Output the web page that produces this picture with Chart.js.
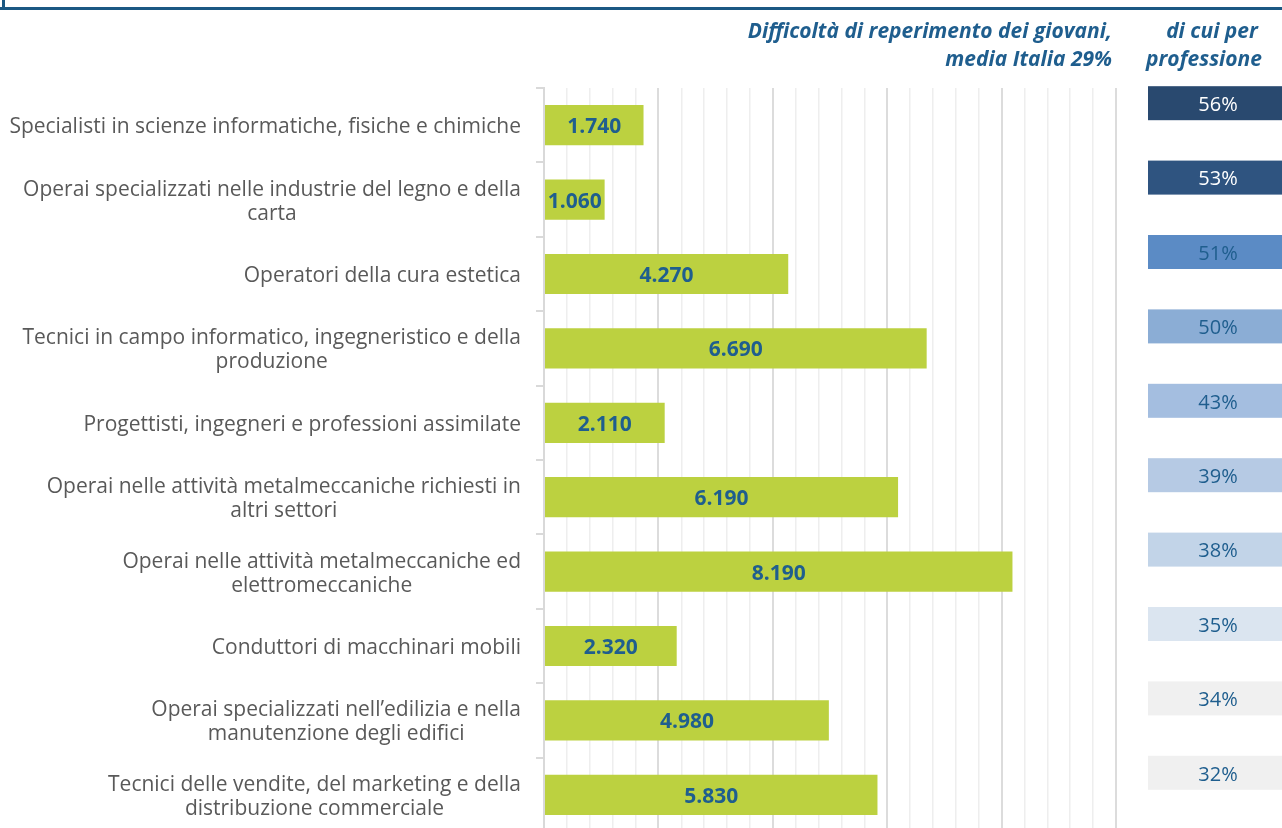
<!DOCTYPE html>
<html lang="it">
<head>
<meta charset="utf-8">
<title>Difficoltà di reperimento dei giovani</title>
<script src="https://cdn.jsdelivr.net/npm/chart.js@4.4.1/dist/chart.umd.min.js"></script>
<style>
    html, body { margin: 0; padding: 0; background: #fff; overflow: hidden; }
    #wrap { position: absolute; left: 0; top: 0; width: 1282px; height: 840px; }
    #topLine { position: absolute; left: 0; top: 7px; width: 1282px; height: 3px; background: #1b5883; }
    #topEdge { position: absolute; left: 2px; top: 0; width: 3px; height: 10px; background: #1b5883; }
</style>
</head>
<body>
<div id="topEdge"></div>
<div id="topLine"></div>
<div id="wrap"><canvas id="chart" width="1282" height="840"></canvas></div>
<script>
// categorie (righe del grafico)
var categories = [
    ['Specialisti in scienze informatiche, fisiche e chimiche'],
    ['Operai specializzati nelle industrie del legno e della', 'carta'],
    ['Operatori della cura estetica'],
    ['Tecnici in campo informatico, ingegneristico e della', 'produzione'],
    ['Progettisti, ingegneri e professioni assimilate'],
    ['Operai nelle attività metalmeccaniche richiesti in', 'altri settori'],
    ['Operai nelle attività metalmeccaniche ed', 'elettromeccaniche'],
    ['Conduttori di macchinari mobili'],
    ['Operai specializzati nell\u2019edilizia e nella', 'manutenzione degli edifici'],
    ['Tecnici delle vendite, del marketing e della', 'distribuzione commerciale']
];
// giovani richiesti
var hires = [1740, 1060, 4270, 6690, 2110, 6190, 8190, 2320, 4980, 5830];
// difficoltà di reperimento per professione (%)
var difficulty = [56, 53, 51, 50, 43, 39, 38, 35, 34, 32];
var boxColors = ['#29496f', '#2f5480', '#5b8bc5', '#8badd5', '#a4bee0', '#b6cae4', '#c2d4e8', '#dbe5f0', '#f0f0f0', '#f0f0f0'];
var headerLeft = ['Difficoltà di reperimento dei giovani,', 'media Italia 29%'];
var headerRight = ['di cui per', 'professione'];

var FONT = '"Open Sans", sans-serif';
var BLUE = '#1f5e8e';

function fmt(n) {
    return n.toLocaleString('it-IT');
}

// etichette delle categorie, allineate a destra, righe centrate
var labelPlugin = {
    id: 'catLabels',
    afterDraw: function (chart) {
        var c = chart.ctx;
        var y = chart.scales.y;
        c.save();
        c.font = '21px ' + FONT;
        c.fillStyle = '#595959';
        c.textAlign = 'center';
        c.textBaseline = 'middle';
        categories.forEach(function (lines, i) {
            var py = y.getPixelForValue(i) + 2;
            var maxW = 0;
            lines.forEach(function (l) { maxW = Math.max(maxW, c.measureText(l).width); });
            var cx = 521 - maxW / 2;
            var y0 = py - (lines.length - 1) * 12;
            lines.forEach(function (l, k) { c.fillText(l, cx, y0 + k * 24); });
        });

        // valori dentro le barre
        var meta = chart.getDatasetMeta(0);
        c.font = 'bold 21px ' + FONT;
        c.fillStyle = BLUE;
        meta.data.forEach(function (bar, i) {
            c.fillText(fmt(hires[i]), (bar.base + bar.x) / 2, bar.y + 2);
        });

        // riquadri percentuali a destra
        c.font = '20px ' + FONT;
        difficulty.forEach(function (v, i) {
            var py = y.getPixelForValue(i) - 22;
            c.fillStyle = boxColors[i];
            c.fillRect(1148, py - 17, 134, 34);
            c.fillStyle = i < 2 ? '#ffffff' : BLUE;
            c.fillText(v + '%', 1218, py + 2);
        });

        // intestazioni
        c.font = 'italic bold 21px ' + FONT;
        c.fillStyle = BLUE;
        c.textAlign = 'right';
        c.fillText(headerLeft[0], 1112, 32);
        c.fillText(headerLeft[1], 1112, 60);
        c.textAlign = 'center';
        c.fillText(headerRight[0], 1212, 32);
        c.fillText(headerRight[1], 1204, 60);
        c.restore();
    }
};

new Chart(document.getElementById('chart').getContext('2d'), {
    type: 'bar',
    data: {
        labels: categories.map(function (l) { return l.join(' '); }),
        datasets: [{
            data: hires,
            backgroundColor: '#bcd140',
            borderWidth: 0,
            barPercentage: 0.54,
            categoryPercentage: 1
        }]
    },
    options: {
        indexAxis: 'y',
        responsive: false,
        animation: false,
        events: [],
        layout: { padding: { top: 88, right: 166, bottom: 8, left: 0 } },
        plugins: { legend: { display: false }, tooltip: { enabled: false } },
        scales: {
            x: {
                min: 0,
                max: 10000,
                ticks: { display: false, stepSize: 400 },
                border: { display: false },
                grid: {
                    drawTicks: false,
                    color: function (ctx) {
                        return ctx.tick && ctx.tick.value % 2000 === 0 ? '#dcdcdc' : '#eeeeee';
                    },
                    lineWidth: function (ctx) {
                        return ctx.tick && ctx.tick.value % 2000 === 0 ? 2 : 1.5;
                    }
                },
                afterFit: function (s) { s.height = 0; }
            },
            y: {
                ticks: { display: false },
                border: { display: true, color: '#d9d9d9', width: 2 },
                grid: {
                    offset: true,
                    drawOnChartArea: false,
                    drawTicks: true,
                    tickLength: 8,
                    color: '#d9d9d9',
                    lineWidth: 2
                },
                afterFit: function (s) { s.width = 544; }
            }
        }
    },
    plugins: [labelPlugin]
});
</script>
</body>
</html>
